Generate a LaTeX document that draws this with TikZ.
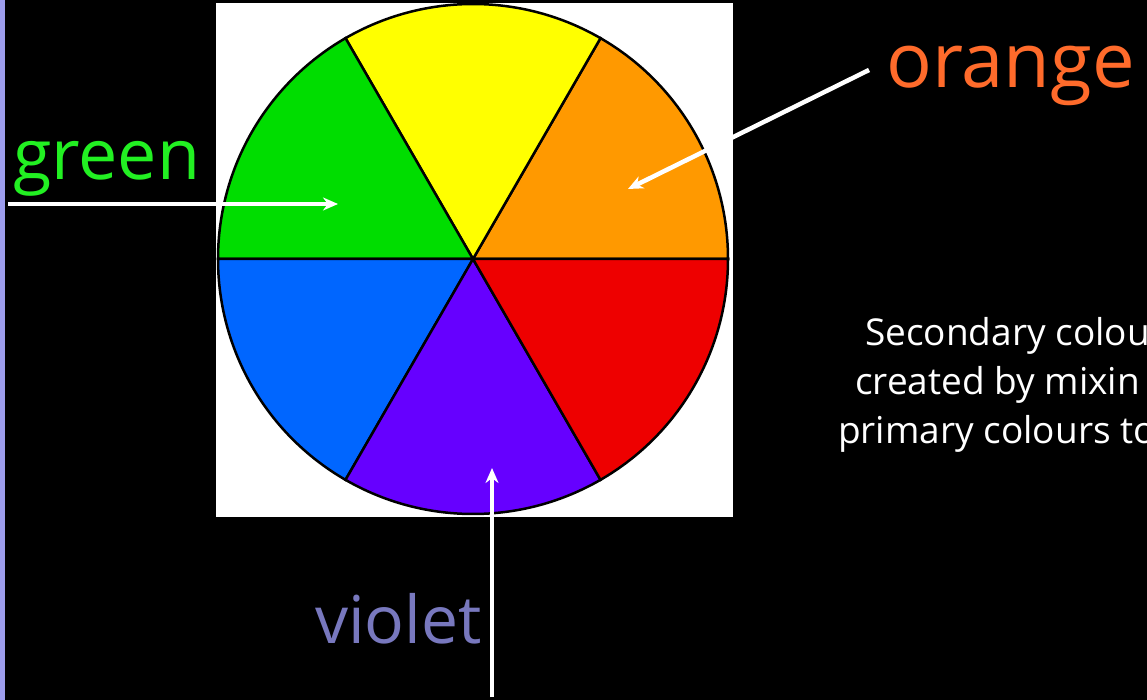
\documentclass[tikz,border=0pt]{standalone}
\usepackage{fontspec}
\setmainfont{Open Sans}
\usetikzlibrary{arrows.meta}
\definecolor{sidestrip}{HTML}{9C9CEC}
\definecolor{wheelorange}{HTML}{FF9900}
\definecolor{wheelyellow}{HTML}{FFFF00}
\definecolor{wheelgreen}{HTML}{00DD00}
\definecolor{wheelblue}{HTML}{0066FF}
\definecolor{wheelviolet}{HTML}{6600FF}
\definecolor{wheelred}{HTML}{EE0000}
\definecolor{txtgreen}{HTML}{22F022}
\definecolor{txtorange}{HTML}{FF6B2B}
\definecolor{txtviolet}{HTML}{7878BE}
\begin{document}
\begin{tikzpicture}[x=1pt,y=-1pt,
    pointer/.style={draw=white,line width=4.5pt,-{Stealth[length=15pt,width=13pt]}},
    colname/.style={anchor=base west,inner sep=0pt,font=\fontsize{70}{70}\selectfont},
    bodytxt/.style={anchor=base west,inner sep=0pt,text=white,font=\fontsize{37}{37}\selectfont}]
   \useasboundingbox (0,0) rectangle (1147,700);
   \clip (0,0) rectangle (1147,700);
   \fill[black] (0,0) rectangle (1147,700);
   \fill[sidestrip] (0,0) rectangle (5,700);
   \fill[white] (216,3) rectangle (733,517);
   % colour wheel
   \begin{scope}[shift={(473,259)},yscale=-1]
     \foreach \a/\c in
       {  0/wheelorange,
         60/wheelyellow,
        120/wheelgreen,
        180/wheelblue,
        240/wheelviolet,
        300/wheelred}
       \filldraw[fill=\c,draw=black,line width=2.5pt] (0,0) -- (\a:255)
         arc[start angle=\a,delta angle=60,radius=255] -- cycle;
   \end{scope}
   % labels
   \node[colname,text=txtgreen] (glabel) at (13,180) {green};
   \node[colname,text=txtorange,font=\fontsize{76}{76}\selectfont] (olabel) at (886,88) {orange};
   \node[colname,text=txtviolet,font=\fontsize{66}{66}\selectfont] (vlabel) at (315,643) {violet};
   \node[bodytxt] (line1) at (865,345) {Secondary colou};
   \node[bodytxt] (line2) at (855,394) {created by mixin};
   \node[bodytxt] (line3) at (838,443) {primary colours to};
   % pointers
   \coordinate (gtail) at (8,204);
   \coordinate (gtip) at (338,204);
   \coordinate (otail) at (869,70);
   \coordinate (otip) at (628,189);
   \coordinate (vtail) at (492,697);
   \coordinate (vtip) at (492,468);
   \draw[pointer] (gtail) -- (gtip);
   \draw[pointer] (otail) -- (otip);
   \draw[pointer] (vtail) -- (vtip);
\end{tikzpicture}
\end{document}
